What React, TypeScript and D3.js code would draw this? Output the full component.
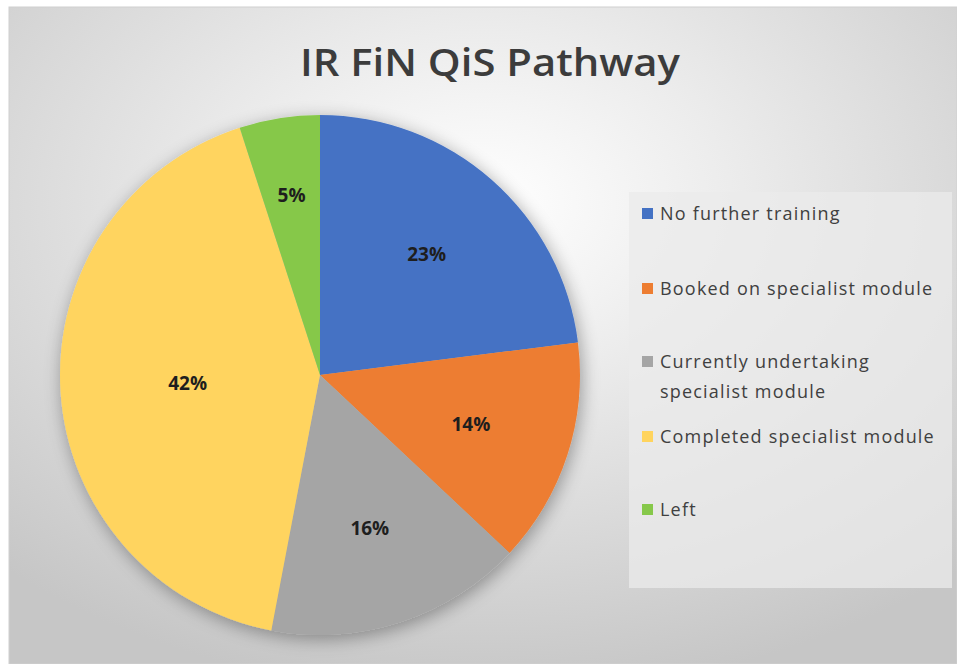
import React from "react";
import * as d3 from "d3";

const categories = [
  "No further training",
  "Booked on specialist module",
  "Currently undertaking specialist module",
  "Completed specialist module",
  "Left",
];
const values = [23, 14, 16, 42, 5];
const labels = ["23%", "14%", "16%", "42%", "5%"];
const colors = ["#4472C4", "#ED7D31", "#A5A5A5", "#FFD45E", "#86C84A"];
const labelRadiusFrac = [0.62, 0.61, 0.62, 0.51, 0.7];
const legendLines = [
  ["No further training"],
  ["Booked on specialist module"],
  ["Currently undertaking", "specialist module"],
  ["Completed specialist module"],
  ["Left"],
];
const legendRowY = [214, 289, 362, 437, 510];
const title = "IR FiN QiS Pathway";

const W = 957;
const H = 664;

export default function App() {
  const cx = 320;
  const cy = 375;
  const r = 260;
  const pie = d3
    .pie<number>()
    .sort(null)
    .value((d) => d);
  const arcs = pie(values);
  const arc = d3.arc<d3.PieArcDatum<number>>().innerRadius(0).outerRadius(r);

  return (
    <div style={{ position: "absolute", left: 0, top: 0 }}>
      <svg width={W} height={H} style={{ display: "block" }}>
        <defs>
          <radialGradient id="bg" cx="0.5" cy="0.3" r="0.75" gradientUnits="objectBoundingBox">
            <stop offset="0" stopColor="#ffffff" />
            <stop offset="0.35" stopColor="#ececec" />
            <stop offset="1" stopColor="#c6c6c6" />
          </radialGradient>
          <filter id="shadow" x="-20%" y="-20%" width="140%" height="140%">
            <feGaussianBlur in="SourceAlpha" stdDeviation="9" />
            <feOffset dx="2" dy="4" result="b" />
            <feComponentTransfer>
              <feFuncA type="linear" slope="0.35" />
            </feComponentTransfer>
            <feMerge>
              <feMergeNode />
              <feMergeNode in="SourceGraphic" />
            </feMerge>
          </filter>
        </defs>
        <rect x={0} y={0} width={W} height={H} fill="#ffffff" />
        <rect x={9} y={7} width={W - 9} height={H - 7} fill="url(#bg)" stroke="#d0d0d0" strokeWidth={1} />
        <text
          x={490}
          y={76}
          textAnchor="middle"
          fontFamily="'Open Sans', 'Noto Sans', sans-serif"
          fontWeight={600}
          fontSize={37}
          fill="#3c3c3c"
          textLength={380}
          lengthAdjust="spacingAndGlyphs"
        >
          {title}
        </text>
        <g transform={`translate(${cx},${cy})`}>
          <g filter="url(#shadow)">
            {arcs.map((a, i) => (
              <path key={categories[i]} d={arc(a) || ""} fill={colors[i]} />
            ))}
          </g>
          {arcs.map((a, i) => {
            const lr = r * labelRadiusFrac[i];
            const la = d3.arc<d3.PieArcDatum<number>>().innerRadius(lr).outerRadius(lr);
            const [lx, ly] = la.centroid(a);
            return (
              <text
                key={"l" + i}
                x={lx}
                y={ly}
                dy="0.35em"
                textAnchor="middle"
                fontFamily="'Open Sans', 'Noto Sans', sans-serif"
                fontWeight={700}
                fontSize={19}
                fill="#1e1e1e"
              >
                {labels[i]}
              </text>
            );
          })}
        </g>
        <rect x={629} y={192} width={323} height={396} fill="#ebebeb" fillOpacity={0.75} />
        {legendLines.map((lines, i) => (
          <g key={"lg" + i}>
            <rect x={642} y={legendRowY[i] - 6} width={11} height={11} fill={colors[i]} />
            {lines.map((t, j) => (
              <text
                key={j}
                x={660}
                y={legendRowY[i] + j * 30}
                dy="0.35em"
                fontFamily="'Open Sans', 'Noto Sans', sans-serif"
                fontSize={18}
                letterSpacing={1.2}
                fill="#404040"
              >
                {t}
              </text>
            ))}
          </g>
        ))}
      </svg>
    </div>
  );
}
